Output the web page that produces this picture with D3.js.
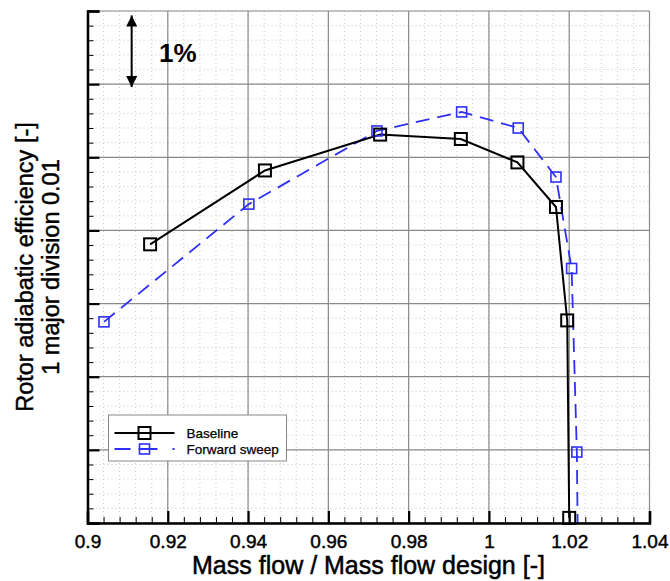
<!DOCTYPE html>
<html>
<head>
<meta charset="utf-8">
<script src="https://cdn.jsdelivr.net/npm/d3@7/dist/d3.min.js"></script>
<style>
  html, body { margin: 0; padding: 0; background: #fff; }
  svg { display: block; font-family: "Liberation Sans", Arial, Helvetica, sans-serif; }
</style>
</head>
<body>
<svg id="chart" width="670" height="581"></svg>
<script>
// Rotor efficiency characteristic: baseline vs forward-swept blade
const baselineFlow = [0.9156, 0.9442, 0.9729, 0.9930, 1.0071, 1.0167, 1.0195, 1.0200];
const baselineEff  = [0.8681, 0.8782, 0.8831, 0.8825, 0.8793, 0.8732, 0.8577, 0.8307];

const sweepFlow = [0.9041, 0.9402, 0.9721, 0.9932, 1.0073, 1.0167, 1.0206, 1.0219, 1.0222];
const sweepEff  = [0.8575, 0.8736, 0.8836, 0.8862, 0.8840, 0.8773, 0.8648, 0.8397, 0.8245];
// the last forward-sweep point lies below the plotted range and is clipped
const sweepMarked = [true, true, true, true, true, true, true, true, false];

const xTicks = [0.9, 0.92, 0.94, 0.96, 0.98, 1.0, 1.02, 1.04];
const xTickLabels = ["0.9", "0.92", "0.94", "0.96", "0.98", "1", "1.02", "1.04"];
const yMajor = [0.83, 0.84, 0.85, 0.86, 0.87, 0.88, 0.89, 0.90];

const seriesNames = ["Baseline", "Forward sweep"];

const svg = d3.select("#chart");
const x = d3.scaleLinear().domain([0.9, 1.04]).range([87.5, 649.5]);
const y = d3.scaleLinear().domain([0.83, 0.90]).range([523, 11]);

const xMinor = d3.range(0.9, 1.0401, 0.004).map(v => +v.toFixed(3));
const yMinor = d3.range(0.83, 0.9001, 0.002).map(v => +v.toFixed(3));

// minor dotted grid
const grid = svg.append("g");
grid.selectAll(".vmin").data(xMinor).join("line")
  .attr("x1", d => x(d)).attr("x2", d => x(d))
  .attr("y1", y.range()[1]).attr("y2", y.range()[0])
  .attr("stroke", "#c8c8c8").attr("stroke-width", 1).attr("stroke-dasharray", "1,3");
grid.selectAll(".hmin").data(yMinor).join("line")
  .attr("y1", d => y(d)).attr("y2", d => y(d))
  .attr("x1", x.range()[0]).attr("x2", x.range()[1])
  .attr("stroke", "#c8c8c8").attr("stroke-width", 1).attr("stroke-dasharray", "1,3");

// major grid
grid.selectAll(".vmaj").data(xTicks).join("line")
  .attr("x1", d => x(d)).attr("x2", d => x(d))
  .attr("y1", y.range()[1]).attr("y2", y.range()[0])
  .attr("stroke", "#8a8a8a").attr("stroke-width", 1.2);
grid.selectAll(".hmaj").data(yMajor).join("line")
  .attr("y1", d => y(d)).attr("y2", d => y(d))
  .attr("x1", x.range()[0]).attr("x2", x.range()[1])
  .attr("stroke", "#8a8a8a").attr("stroke-width", 1.2);

// clip region for the data
svg.append("clipPath").attr("id", "plotClip").append("rect")
  .attr("x", x.range()[0]).attr("y", y.range()[1])
  .attr("width", x.range()[1] - x.range()[0])
  .attr("height", y.range()[0] - y.range()[1]);

const line = d3.line().x(d => x(d[0])).y(d => y(d[1]));
const base = baselineFlow.map((f, i) => [f, baselineEff[i]]);
const sweep = sweepFlow.map((f, i) => [f, sweepEff[i]]);

const plot = svg.append("g").attr("clip-path", "url(#plotClip)");

plot.append("path").datum(sweep).attr("d", line)
  .attr("fill", "none").attr("stroke", "#2f2ff5").attr("stroke-width", 1.8)
  .attr("stroke-dasharray", "14,8");
plot.append("path").datum(base).attr("d", line)
  .attr("fill", "none").attr("stroke", "#000").attr("stroke-width", 2);

const bs = 12, ss = 10;
plot.selectAll(".sq-sweep").data(sweep.filter((d, i) => sweepMarked[i])).join("rect")
  .attr("x", d => x(d[0]) - ss / 2).attr("y", d => y(d[1]) - ss / 2)
  .attr("width", ss).attr("height", ss)
  .attr("fill", "none").attr("stroke", "#2f2ff5").attr("stroke-width", 1.6);
svg.selectAll(".sq-base").data(base).join("rect")
  .attr("x", d => x(d[0]) - bs / 2).attr("y", d => y(d[1]) - bs / 2)
  .attr("width", bs).attr("height", bs)
  .attr("fill", "none").attr("stroke", "#000").attr("stroke-width", 2);

// axes
const xAxisMinor = d3.axisBottom(x).tickValues(xMinor).tickSize(-6).tickFormat("");
const xAxisMajor = d3.axisBottom(x).tickValues(xTicks).tickSize(-12).tickPadding(12)
  .tickFormat((d, i) => xTickLabels[i]);
const yAxisMinor = d3.axisLeft(y).tickValues(yMinor).tickSize(-6).tickFormat("");
const yAxisMajor = d3.axisLeft(y).tickValues(yMajor).tickSize(-12).tickFormat("");

const gxm = svg.append("g").attr("transform", `translate(0,${y.range()[0]})`).call(xAxisMinor);
gxm.selectAll(".tick line").attr("stroke", "#000").attr("stroke-width", 1);
gxm.select(".domain").remove();
const gx = svg.append("g").attr("transform", `translate(0,${y.range()[0]})`).call(xAxisMajor);
gx.select(".domain").attr("stroke", "#000").attr("stroke-width", 2.5);
gx.selectAll(".tick line").attr("stroke", "#000").attr("stroke-width", 2.2);
gx.selectAll(".tick text").attr("fill", "#000").attr("font-size", 19)
  .attr("stroke", "#000").attr("stroke-width", 0.45);

const gym = svg.append("g").attr("transform", `translate(${x.range()[0]},0)`).call(yAxisMinor);
gym.selectAll(".tick line").attr("stroke", "#000").attr("stroke-width", 1);
gym.select(".domain").remove();
const gy = svg.append("g").attr("transform", `translate(${x.range()[0]},0)`).call(yAxisMajor);
gy.select(".domain").attr("stroke", "#000").attr("stroke-width", 2.5);
gy.selectAll(".tick line").attr("stroke", "#000").attr("stroke-width", 2.2);

// axis titles
svg.append("text")
  .attr("x", (x.range()[0] + x.range()[1]) / 2).attr("y", 574)
  .attr("text-anchor", "middle").attr("font-size", 25).attr("fill", "#000")
  .attr("stroke", "#000").attr("stroke-width", 0.5)
  .text("Mass flow / Mass flow design [-]");
const yt = svg.append("text")
  .attr("transform", "translate(32.5,267) rotate(-90)")
  .attr("text-anchor", "middle").attr("font-size", 23.5).attr("fill", "#000")
  .attr("stroke", "#000").attr("stroke-width", 0.45);
yt.append("tspan").attr("x", 0).attr("dy", 0).text("Rotor adiabatic efficiency [-]");
yt.append("tspan").attr("x", 0).attr("dy", 26).text("1 major division 0.01");

// scale indicator: one major division equals 1% efficiency
const arrowX = x(0.911);
const defs = svg.append("defs");
defs.append("marker").attr("id", "ah").attr("viewBox", "0 0 10 10")
  .attr("refX", 10).attr("refY", 5).attr("markerWidth", 12).attr("markerHeight", 11)
  .attr("markerUnits", "userSpaceOnUse").attr("orient", "auto-start-reverse")
  .append("path").attr("d", "M0,0 L10,5 L0,10 Z").attr("fill", "#000");
svg.append("line")
  .attr("x1", arrowX).attr("x2", arrowX)
  .attr("y1", y(0.8994)).attr("y2", y(0.8896))
  .attr("stroke", "#000").attr("stroke-width", 2)
  .attr("marker-start", "url(#ah)").attr("marker-end", "url(#ah)");
svg.append("text").attr("x", 159).attr("y", 62)
  .attr("font-size", 26).attr("font-weight", "bold").attr("fill", "#000").text("1%");

// legend
const lg = svg.append("g").attr("transform", "translate(108.5,415)");
lg.append("rect").attr("width", 178).attr("height", 46)
  .attr("fill", "#fff").attr("stroke", "#888").attr("stroke-width", 1);
const rows = [
  { name: seriesNames[0], color: "#000", dash: null, w: 2, s: bs, sw: 2 },
  { name: seriesNames[1], color: "#2f2ff5", dash: "16,8,19,15,2,10", w: 1.8, s: ss, sw: 1.6 }
];
rows.forEach((r, i) => {
  const cy = 18 + i * 16;
  lg.append("line").attr("x1", 6).attr("x2", 66).attr("y1", cy).attr("y2", cy)
    .attr("stroke", r.color).attr("stroke-width", r.w)
    .attr("stroke-dasharray", r.dash);
  lg.append("rect").attr("x", 36 - r.s / 2).attr("y", cy - r.s / 2)
    .attr("width", r.s).attr("height", r.s).attr("fill", "none")
    .attr("stroke", r.color).attr("stroke-width", r.sw);
  lg.append("text").attr("x", 78).attr("y", cy + 5).attr("font-size", 13.5)
    .attr("fill", "#000").attr("stroke", "#000").attr("stroke-width", 0.25).text(r.name);
});
</script>
</body>
</html>
